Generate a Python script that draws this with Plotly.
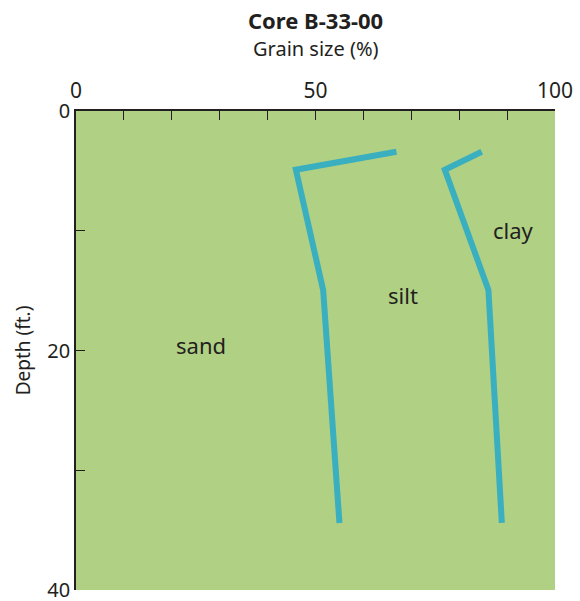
import plotly.graph_objects as go

# Boundary curves (grain size %, depth ft)
sand_silt_pct = [66.9, 45.9, 51.6, 55.0]
sand_silt_depth = [3.4, 4.9, 14.95, 34.4]
silt_clay_pct = [84.7, 77.0, 86.1, 88.9]
silt_clay_depth = [3.4, 4.9, 14.95, 34.4]

labels = ["sand", "silt", "clay"]
label_pct = [26.1, 68.3, 91.4]
label_depth = [19.5, 15.4, 9.9]

x_ticks = [0, 50, 100]
y_ticks = [0, 20, 40]

FONT = "Noto Sans"
DARK = "#231f20"
LINE = "#3aafbf"
BG = "#b0d084"

fig = go.Figure()
for xs, ys in [(sand_silt_pct, sand_silt_depth), (silt_clay_pct, silt_clay_depth)]:
    fig.add_trace(go.Scatter(x=xs, y=ys, mode="lines",
                             line=dict(color=LINE, width=6),
                             hoverinfo="skip", showlegend=False))

for t, x, y in zip(labels, label_pct, label_depth):
    fig.add_annotation(x=x, y=y, text=t, showarrow=False,
                       font=dict(family=FONT, size=22, color=DARK))

fig.add_annotation(xref="paper", yref="paper", x=0.5, y=1, yshift=91,
                   text="<b>Core B-33-00</b>", showarrow=False,
                   font=dict(family=FONT, size=22, color=DARK), yanchor="middle")
fig.add_annotation(xref="paper", yref="paper", x=0.5, y=1, yshift=63,
                   text="Grain size (%)", showarrow=False,
                   font=dict(family=FONT, size=20, color=DARK), yanchor="middle")

fig.update_layout(
    width=580, height=601,
    margin=dict(l=76, r=25, t=111, b=11),
    plot_bgcolor=BG, paper_bgcolor="white",
    font=dict(family=FONT, color=DARK),
    xaxis=dict(range=[0, 100], side="top", showgrid=False, zeroline=False,
               showline=True, linecolor=DARK, linewidth=1.5, automargin=False,
               tickmode="array", tickvals=x_ticks, ticks="inside", ticklen=9,
               tickcolor=DARK, tickwidth=1, ticklabelstandoff=3,
               ticklabeloverflow="allow",
               minor=dict(dtick=10, ticks="inside", ticklen=9, tickcolor=DARK, tickwidth=1),
               tickfont=dict(size=21, color=DARK)),
    yaxis=dict(range=[40, 0], showgrid=False, zeroline=False,
               showline=True, linecolor=DARK, linewidth=1.5, automargin=False,
               tickmode="array", tickvals=y_ticks, ticks="inside", ticklen=9,
               tickcolor=DARK, tickwidth=1, ticklabeloverflow="allow",
               minor=dict(dtick=10, ticks="inside", ticklen=9, tickcolor=DARK, tickwidth=1),
               tickfont=dict(size=20, color=DARK),
               title=dict(text="Depth (ft.)", font=dict(size=19, color=DARK), standoff=12)),
)

fig.write_html("out.html", config={"displayModeBar": False},
               post_script="document.body.style.margin='0';")
